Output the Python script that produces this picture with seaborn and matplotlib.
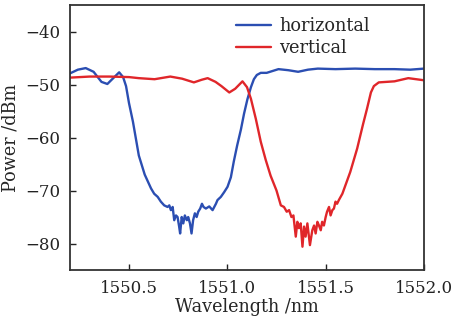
"""Transmission spectra of the two polarisation states, redrawn with seaborn."""

import matplotlib

matplotlib.use("Agg")

import matplotlib.pyplot as plt
import pandas as pd
import seaborn as sns

OUT_PNG = "out.png"

# horizontal polarisation (blue)
wl_horizontal = [
    1550.20, 1550.24, 1550.28, 1550.32, 1550.36, 1550.39, 1550.42, 1550.45,
    1550.47, 1550.485, 1550.50, 1550.52, 1550.55, 1550.58, 1550.612, 1550.628,
    1550.646, 1550.662, 1550.679, 1550.696, 1550.705, 1550.713, 1550.722,
    1550.730, 1550.739, 1550.747, 1550.755, 1550.760, 1550.768, 1550.776,
    1550.784, 1550.794, 1550.801, 1550.810, 1550.818, 1550.826, 1550.835,
    1550.844, 1550.852, 1550.862, 1550.871, 1550.879, 1550.891, 1550.908,
    1550.925, 1550.942, 1550.950, 1550.967, 1550.984, 1551.001, 1551.018,
    1551.033, 1551.05, 1551.069, 1551.085, 1551.102, 1551.12, 1551.135,
    1551.15, 1551.17, 1551.20, 1551.26, 1551.31, 1551.36, 1551.41, 1551.46,
    1551.55, 1551.65, 1551.75, 1551.85, 1551.93, 1552.00,
]
pw_horizontal = [
    -47.9, -47.2, -46.9, -47.6, -49.5, -49.9, -48.8, -47.7,
    -48.6, -50.3, -53.5, -57.0, -63.4, -67.0, -69.6, -70.6,
    -71.2, -72.1, -72.8, -73.1, -72.8, -73.7, -73.1,
    -75.6, -74.7, -75.0, -76.8, -78.1, -75.0, -76.2,
    -74.7, -75.6, -75.0, -76.2, -78.1, -75.6, -74.3,
    -75.0, -74.0, -73.4, -72.5, -73.1, -73.4, -73.0,
    -73.7, -72.5, -71.8, -71.2, -70.3, -69.3, -67.5,
    -64.5, -61.5, -58.5, -55.5, -52.8, -50.5, -49.0,
    -48.2, -47.8, -47.8, -47.1, -47.3, -47.6, -47.2, -47.0,
    -47.1, -47.0, -47.1, -47.1, -47.2, -47.0,
]

# vertical polarisation (red)
wl_vertical = [
    1550.20, 1550.30, 1550.40, 1550.50, 1550.55, 1550.63, 1550.71, 1550.77,
    1550.83, 1550.87, 1550.90, 1550.94, 1550.97, 1551.01, 1551.04, 1551.077,
    1551.10, 1551.12, 1551.145, 1551.17, 1551.195, 1551.22, 1551.25,
    1551.272, 1551.288, 1551.302, 1551.314, 1551.326, 1551.336, 1551.348,
    1551.356, 1551.364, 1551.373, 1551.382, 1551.390, 1551.398, 1551.407,
    1551.420, 1551.432, 1551.441, 1551.449, 1551.458, 1551.466, 1551.475,
    1551.482, 1551.491, 1551.500, 1551.507, 1551.517, 1551.525, 1551.534,
    1551.542, 1551.550, 1551.558, 1551.567, 1551.585, 1551.625, 1551.66,
    1551.69, 1551.71, 1551.73, 1551.745, 1551.77, 1551.85, 1551.92, 1551.96,
    1552.00,
]
pw_vertical = [
    -48.7, -48.5, -48.5, -48.6, -48.8, -49.0, -48.5, -48.9,
    -49.6, -49.1, -48.8, -49.5, -50.3, -51.5, -50.8, -49.4,
    -50.5, -52.7, -56.5, -60.8, -64.2, -67.2, -70.0,
    -72.8, -73.1, -74.0, -73.7, -75.0, -74.7, -78.7,
    -75.9, -77.1, -76.2, -80.6, -76.8, -78.7, -76.2,
    -80.3, -77.5, -76.6, -78.1, -75.9, -76.6, -77.5,
    -75.9, -76.6, -75.0, -74.0, -73.1, -74.7, -73.7,
    -73.4, -72.1, -72.5, -71.8, -70.6, -66.5, -62.1,
    -57.5, -54.6, -51.5, -50.3, -49.6, -49.4, -48.8, -49.0,
    -49.2,
]

series_names = ["horizontal", "vertical"]
series_colors = ["#2b4eb2", "#e0262a"]

x_ticks = [1550.5, 1551.0, 1551.5, 1552.0]
y_ticks = [-40, -50, -60, -70, -80]


def build_frame() -> pd.DataFrame:
    h = pd.DataFrame({"wl": wl_horizontal, "power": pw_horizontal, "pol": series_names[0]})
    v = pd.DataFrame({"wl": wl_vertical, "power": pw_vertical, "pol": series_names[1]})
    return pd.concat([h, v], ignore_index=True)


def plot(df: pd.DataFrame) -> None:
    sns.set_style("ticks")
    plt.rcParams["font.family"] = ["DejaVu Serif"]

    fig = plt.figure(figsize=(4.53, 3.23), dpi=100)
    ax = fig.add_axes([0.1545, 0.164, 0.7815, 0.8205])

    sns.lineplot(
        data=df,
        x="wl",
        y="power",
        hue="pol",
        hue_order=series_names,
        palette=series_colors,
        linewidth=1.7,
        sort=False,
        estimator=None,
        ax=ax,
    )

    ax.set_xlim(1550.2, 1552.0)
    ax.set_ylim(-85, -35)
    ax.set_xticks(x_ticks)
    ax.set_xticklabels([f"{t:.1f}" for t in x_ticks])
    ax.set_yticks(y_ticks)
    ax.tick_params(direction="in", length=4, width=1.0, labelsize=12,
                   colors="#222222", pad=7)
    for side in ax.spines.values():
        side.set_visible(True)
        side.set_linewidth(1.3)
        side.set_color("#333333")

    ax.set_xlabel("Wavelength /nm", fontsize=12.7, labelpad=1)
    ax.set_ylabel("Power /dBm", fontsize=12.7, labelpad=4)

    ax.legend(
        loc="upper left",
        bbox_to_anchor=(0.425, 1.014),
        frameon=False,
        handlelength=1.95,
        handletextpad=0.45,
        labelspacing=0.2,
        fontsize=12.8,
        title=None,
    )

    fig.savefig(OUT_PNG, dpi=100)
    plt.close(fig)


if __name__ == "__main__":
    plot(build_frame())
